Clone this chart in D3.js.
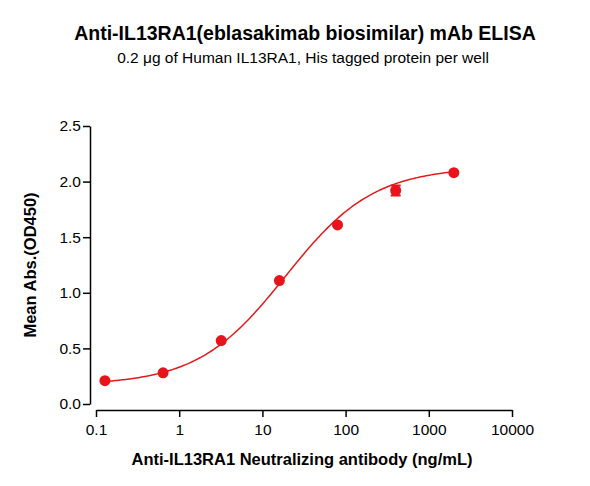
<!DOCTYPE html>
<html><head><meta charset="utf-8">
<script src="https://cdn.jsdelivr.net/npm/d3@7"></script>
<style>body{margin:0;background:#fff}text{font-family:Arial,"Liberation Sans",sans-serif}</style>
</head><body><svg id="c" width="590" height="486"></svg>
<script>
// data
let conc = [0.128, 0.64, 3.2, 16, 80, 400, 2000]
let od = [0.21, 0.28, 0.57, 1.11, 1.61, 1.92, 2.08]
let err = [0, 0, 0, 0, 0, 0.045, 0]
// 4PL fit parameters (bottom, top, ec50, hill)
let fit = [0.17, 2.13, 19, 0.82]
let xTicks = [0.1, 1, 10, 100, 1000, 10000]
let yTicks = [0, 0.5, 1.0, 1.5, 2.0, 2.5]

let svg = d3.select('#c')
let x = d3.scaleLog().domain([0.1, 10000]).range([96, 512])
let y = d3.scaleLinear().domain([0, 2.5]).range([404, 126])

svg.append('text').attr('x', 305).attr('y', 40).attr('text-anchor', 'middle')
  .attr('font-size', 19.5).attr('font-weight', 'bold').text('Anti-IL13RA1(eblasakimab biosimilar) mAb ELISA')
svg.append('text').attr('x', 303).attr('y', 63).attr('text-anchor', 'middle')
  .attr('font-size', 15.5).text('0.2 \u03bcg of Human IL13RA1, His tagged protein per well')

let xa = svg.append('g').attr('transform', 'translate(0,410)')
  .call(d3.axisBottom(x).tickValues(xTicks).tickFormat(d => d).tickSizeOuter(0))
let ya = svg.append('g').attr('transform', 'translate(90,0)')
  .call(d3.axisLeft(y).tickValues(yTicks).tickFormat(d3.format('.1f')).tickSizeOuter(0))
for (let a of [xa, ya]) {
  a.selectAll('path,line').attr('stroke', '#000').attr('stroke-width', 1.5)
  a.selectAll('text').attr('font-size', 15.5).attr('fill', '#000')
}
xa.selectAll('.tick line').attr('y2', 7)
xa.selectAll('.tick text').attr('dy', '1em')
ya.selectAll('.tick line').attr('x2', -7)

svg.append('text').attr('x', 302).attr('y', 465).attr('text-anchor', 'middle')
  .attr('font-size', 16.5).attr('font-weight', 'bold').text('Anti-IL13RA1 Neutralizing antibody (ng/mL)')
svg.append('text').attr('transform', 'translate(36,265) rotate(-90)').attr('text-anchor', 'middle')
  .attr('font-size', 16.5).attr('font-weight', 'bold').text('Mean Abs.(OD450)')

let f = c => fit[0] + (fit[1] - fit[0]) / (1 + Math.pow(fit[2] / c, fit[3]))
let cs = d3.range(0, 201).map(i => Math.pow(10, Math.log10(0.128) + i / 200 * (Math.log10(2000) - Math.log10(0.128))))
svg.append('path').attr('fill', 'none').attr('stroke', '#e31a1c').attr('stroke-width', 1.5)
  .attr('d', d3.line().x(c => x(c)).y(c => y(f(c)))(cs))

let red = '#e8141c'
conc.forEach((c, i) => {
  if (err[i] > 0) {
    let g = svg.append('g').attr('stroke', red).attr('stroke-width', 2)
    g.append('line').attr('x1', x(c)).attr('x2', x(c)).attr('y1', y(od[i] - err[i])).attr('y2', y(od[i] + err[i]))
    for (let v of [od[i] - err[i], od[i] + err[i]])
      g.append('line').attr('x1', x(c) - 5).attr('x2', x(c) + 5).attr('y1', y(v)).attr('y2', y(v))
  }
  svg.append('circle').attr('cx', x(c)).attr('cy', y(od[i])).attr('r', 5.5).attr('fill', red)
})
</script></body></html>
